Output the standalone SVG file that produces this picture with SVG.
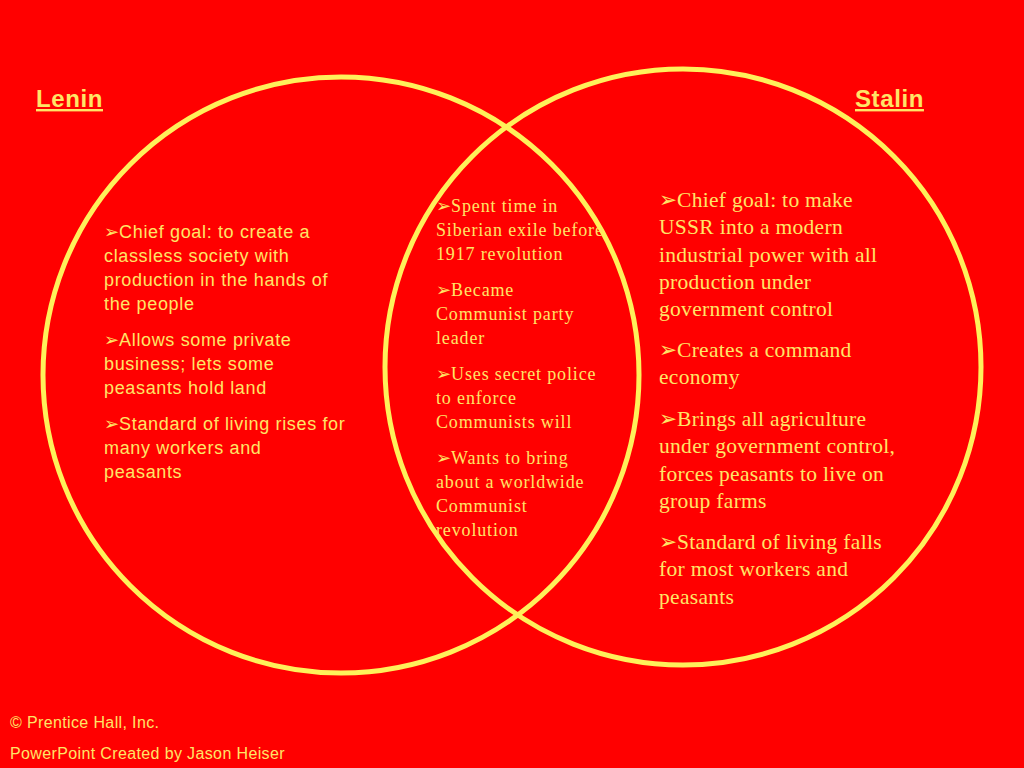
<svg xmlns="http://www.w3.org/2000/svg" width="1024" height="768" viewBox="0 0 1024 768">
<style>
.s{font-family:"Liberation Sans",Arial,sans-serif;fill:#ffe566}
.t{font-family:"Liberation Serif","Times New Roman",serif;fill:#ffe566}
.a{font-size:18px;letter-spacing:.65px}
.b{font-size:18px;letter-spacing:.85px}
.c{font-size:21.5px;letter-spacing:.3px}
.h{font-size:24px;font-weight:bold;text-decoration:underline;letter-spacing:.6px}
.f{font-size:16px;letter-spacing:.37px}
.g{font-family:"DejaVu Sans",sans-serif;letter-spacing:0}
circle{fill:none;stroke:#fff05a;stroke-width:5}
</style>
<rect width="1024" height="768" fill="#ff0000"/>
<g id="connectors"/>
<g id="lenin-circle"><circle cx="341" cy="375" r="298"/></g>
<g id="stalin-circle"><circle cx="683" cy="367" r="298"/></g>
<g id="lenin-title"><text class="s h" x="36" y="107">Lenin</text></g>
<g id="stalin-title"><text class="s h" x="855" y="107">Stalin</text></g>
<g id="lenin-text">
<text class="s a" x="104" y="238"><tspan class="g">➢</tspan><tspan>Chief goal: to create a</tspan><tspan x="104" dy="24">classless society with</tspan><tspan x="104" dy="24">production in the hands of</tspan><tspan x="104" dy="24">the people</tspan></text>
<text class="s a" x="104" y="346"><tspan class="g">➢</tspan><tspan>Allows some private</tspan><tspan x="104" dy="24">business; lets some</tspan><tspan x="104" dy="24">peasants hold land</tspan></text>
<text class="s a" x="104" y="430"><tspan class="g">➢</tspan><tspan>Standard of living rises for</tspan><tspan x="104" dy="24">many workers and</tspan><tspan x="104" dy="24">peasants</tspan></text>
</g>
<g id="shared-text">
<text class="t b" x="436" y="212"><tspan class="g">➢</tspan><tspan>Spent time in</tspan><tspan x="436" dy="24">Siberian exile before</tspan><tspan x="436" dy="24">1917 revolution</tspan></text>
<text class="t b" x="436" y="296"><tspan class="g">➢</tspan><tspan>Became</tspan><tspan x="436" dy="24">Communist party</tspan><tspan x="436" dy="24">leader</tspan></text>
<text class="t b" x="436" y="380"><tspan class="g">➢</tspan><tspan>Uses secret police</tspan><tspan x="436" dy="24">to enforce</tspan><tspan x="436" dy="24">Communists will</tspan></text>
<text class="t b" x="436" y="464"><tspan class="g">➢</tspan><tspan>Wants to bring</tspan><tspan x="436" dy="24">about a worldwide</tspan><tspan x="436" dy="24">Communist</tspan><tspan x="436" dy="24">revolution</tspan></text>
</g>
<g id="stalin-text">
<text class="t c" x="659" y="207"><tspan class="g">➢</tspan><tspan>Chief goal: to make</tspan><tspan x="659" dy="27.3">USSR into a modern</tspan><tspan x="659" dy="27.3">industrial power with all</tspan><tspan x="659" dy="27.3">production under</tspan><tspan x="659" dy="27.3">government control</tspan></text>
<text class="t c" x="659" y="357"><tspan class="g">➢</tspan><tspan>Creates a command</tspan><tspan x="659" dy="27.3">economy</tspan></text>
<text class="t c" x="659" y="426"><tspan class="g">➢</tspan><tspan>Brings all agriculture</tspan><tspan x="659" dy="27.3">under government control,</tspan><tspan x="659" dy="27.3">forces peasants to live on</tspan><tspan x="659" dy="27.3">group farms</tspan></text>
<text class="t c" x="659" y="549"><tspan class="g">➢</tspan><tspan>Standard of living falls</tspan><tspan x="659" dy="27.3">for most workers and</tspan><tspan x="659" dy="27.3">peasants</tspan></text>
</g>
<g id="credits">
<text class="s f" x="10" y="728">© Prentice Hall, Inc.</text>
<text class="s f" x="10" y="759">PowerPoint Created by Jason Heiser</text>
</g>
</svg>
